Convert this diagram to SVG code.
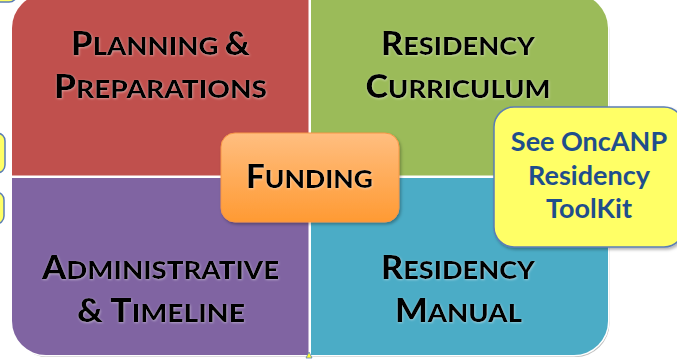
<svg xmlns="http://www.w3.org/2000/svg" width="677" height="359" viewBox="0 0 677 359">
<defs>
<style>
.lbl{font-family:Lato,"Open Sans","Liberation Sans",sans-serif;font-weight:900;fill:#000;text-anchor:middle;filter:url(#glow)}
.big{font-size:32px}
.sm{font-size:25.5px}
.yt{font-family:Lato,"Open Sans","Liberation Sans",sans-serif;font-weight:bold;fill:#1F4E8C;font-size:27px;text-anchor:middle}
.ybox{fill:#FFFF66;stroke:#5B7DB5;stroke-width:1.5}
</style>
<clipPath id="outer"><rect x="12" y="-6" width="596" height="361" rx="34"/></clipPath>
<linearGradient id="org" x1="0" y1="0" x2="0" y2="1">
<stop offset="0" stop-color="#FFBE80"/>
<stop offset="1" stop-color="#FF9A33"/>
</linearGradient>
<filter id="glow" x="-10%" y="-20%" width="120%" height="140%">
<feDropShadow dx="0.5" dy="0.8" stdDeviation="0.8" flood-color="#ffffff" flood-opacity="0.45"/>
</filter>
<filter id="sh" x="-10%" y="-10%" width="130%" height="130%">
<feDropShadow dx="1.5" dy="2" stdDeviation="1.5" flood-color="#000" flood-opacity="0.3"/>
</filter>
</defs>

<!-- partial yellow boxes at edges -->
<g id="edge-top-left"><rect x="-40" y="-40" width="57" height="42" rx="8" class="ybox"/></g>
<g id="edge-top"><rect x="127" y="-40" width="138" height="44" rx="9" class="ybox" filter="url(#sh)"/></g>
<g id="edge-left-1"><rect x="-40" y="133" width="45" height="40" rx="8" class="ybox"/></g>
<g id="edge-left-2"><rect x="-40" y="192" width="44" height="32" rx="8" class="ybox"/></g>

<!-- main matrix -->
<g id="matrix">
<rect x="12" y="-6" width="596" height="361" rx="34" fill="#bdbdbd" transform="translate(1.5,2)"/>
<rect x="12" y="-6" width="596" height="361" rx="34" fill="#ffffff" stroke="#ffffff" stroke-width="3"/>
<g clip-path="url(#outer)">
<g id="planning"><rect x="12" y="-6" width="296.5" height="181.5" fill="#C0504D"/>
<text class="lbl" x="160.5" y="55" textLength="179" lengthAdjust="spacingAndGlyphs"><tspan class="big">P</tspan><tspan class="sm">LANNING </tspan><tspan class="big">&amp;</tspan></text>
<text class="lbl" x="160.5" y="98" textLength="213" lengthAdjust="spacingAndGlyphs"><tspan class="big">P</tspan><tspan class="sm">REPARATIONS</tspan></text></g>
<g id="curriculum"><rect x="311" y="-6" width="297" height="181.5" fill="#9BBB59"/>
<text class="lbl" x="458" y="55" textLength="154" lengthAdjust="spacingAndGlyphs"><tspan class="big">R</tspan><tspan class="sm">ESIDENCY</tspan></text>
<text class="lbl" x="458" y="98" textLength="185" lengthAdjust="spacingAndGlyphs"><tspan class="big">C</tspan><tspan class="sm">URRICULUM</tspan></text></g>
<g id="administrative"><rect x="12" y="178" width="296.5" height="177" fill="#8064A2"/>
<text class="lbl" x="160.5" y="279" textLength="237" lengthAdjust="spacingAndGlyphs"><tspan class="big">A</tspan><tspan class="sm">DMINISTRATIVE</tspan></text>
<text class="lbl" x="161" y="322" textLength="168" lengthAdjust="spacingAndGlyphs"><tspan class="big">&amp; T</tspan><tspan class="sm">IMELINE</tspan></text></g>
<g id="manual"><rect x="311" y="178" width="297" height="177" fill="#4BACC6"/>
<text class="lbl" x="458" y="279" textLength="154" lengthAdjust="spacingAndGlyphs"><tspan class="big">R</tspan><tspan class="sm">ESIDENCY</tspan></text>
<text class="lbl" x="458.5" y="322" textLength="127" lengthAdjust="spacingAndGlyphs"><tspan class="big">M</tspan><tspan class="sm">ANUAL</tspan></text></g>
</g>
</g>

<g id="funding">
<rect x="221" y="133" width="178" height="89" rx="14" fill="url(#org)" stroke="#F79646" stroke-width="1" filter="url(#sh)"/>
<text class="lbl" x="309.5" y="188" textLength="127" lengthAdjust="spacingAndGlyphs"><tspan class="big">F</tspan><tspan class="sm">UNDING</tspan></text>
</g>

<g id="toolkit">
<rect x="494" y="107" width="190" height="140" rx="20" class="ybox" filter="url(#sh)"/>
<text class="yt" x="589" y="151">See OncANP</text>
<text class="yt" x="589" y="185">Residency</text>
<text class="yt" x="589" y="218">ToolKit</text>
</g>

<g id="connectors">
<polygon points="309,352 312,358 306,358" fill="#FFFF33" stroke="#5B7DB5" stroke-width="0.8"/>
</g>
</svg>
